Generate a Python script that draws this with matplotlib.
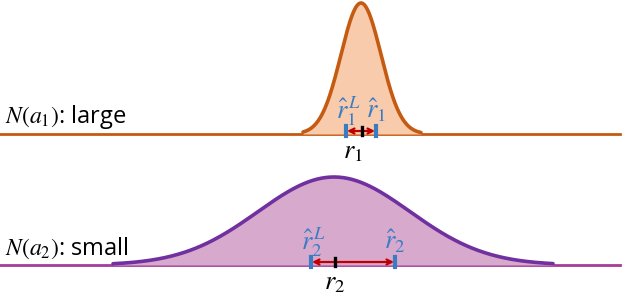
import numpy as np
import matplotlib.pyplot as plt

plt.rcParams['mathtext.fontset'] = 'stix'

# distribution parameters (pixel units of the sketch)
names = ["$N(a_1)$: large", "$N(a_2)$: small"]
centers = [361, 334]
widths = [20, 76]
heights = [131, 88]
baselines = [134, 265]
spans = [(303, 421), (113, 553)]
line_colors = ["#C55A11", "#7030A0"]
base_colors = ["#C55A11", "#A33C9A"]
fill_colors = ["#F8CBAD", "#D7A9CC"]

# estimates: lower bound, point estimate, true value
r_low = [346, 311]
r_hat = [376, 395]
r_true = [362, 335]
hat_labels = [(r"$\hat{r}_1^{\,L}$", r"$\hat{r}_1$"), (r"$\hat{r}_2^{\,L}$", r"$\hat{r}_2$")]
true_labels = [r"$r_1$", r"$r_2$"]

fig = plt.figure(figsize=(6.24, 2.94), dpi=100)
ax = fig.add_axes([0, 0, 1, 1])
ax.set_xlim(0, 624)
ax.set_ylim(294, 0)
ax.axis("off")

blue = "#3A7CC2"
red = "#C00000"

for i in range(2):
    b = baselines[i]
    x = np.linspace(spans[i][0], spans[i][1], 400)
    y = b - heights[i] * np.exp(-0.5 * ((x - centers[i]) / widths[i]) ** 2)
    ax.plot([0, 620], [b, b], color=base_colors[i], lw=2, zorder=1)
    ax.fill_between(x, y, b, color=fill_colors[i], lw=0, zorder=2)
    ax.plot(x, y, color=line_colors[i], lw=2.6, zorder=3, solid_capstyle="round")

    ax.text(5, b - 17, names[i], fontsize=17, va="center", ha="left",
            family="Open Sans", zorder=5)

    ya = b - 3
    ax.annotate("", xy=(r_low[i] + 1, ya), xytext=(r_hat[i] - 1, ya),
                arrowprops=dict(arrowstyle="<->", color=red, lw=1.6,
                                shrinkA=0, shrinkB=0, mutation_scale=9), zorder=6)
    for xv in (r_low[i], r_hat[i]):
        ax.plot([xv, xv], [b - 8, b + 2], color=blue, lw=3, zorder=7)
    ax.plot([r_true[i], r_true[i]], [b - 7, b + 1], color="black", lw=2.4, zorder=7)

    ax.text(r_low[i] + 3, b - 23, hat_labels[i][0], fontsize=19, color=blue,
            ha="center", va="center", zorder=8)
    ax.text(r_hat[i], b - 23, hat_labels[i][1], fontsize=19, color=blue,
            ha="center", va="center", zorder=8)
    ax.text(r_true[i] - 9 if i == 0 else r_true[i], b + 17, true_labels[i],
            fontsize=19, color="black", ha="center", va="center", zorder=8)

fig.savefig("out.png", dpi=100)
